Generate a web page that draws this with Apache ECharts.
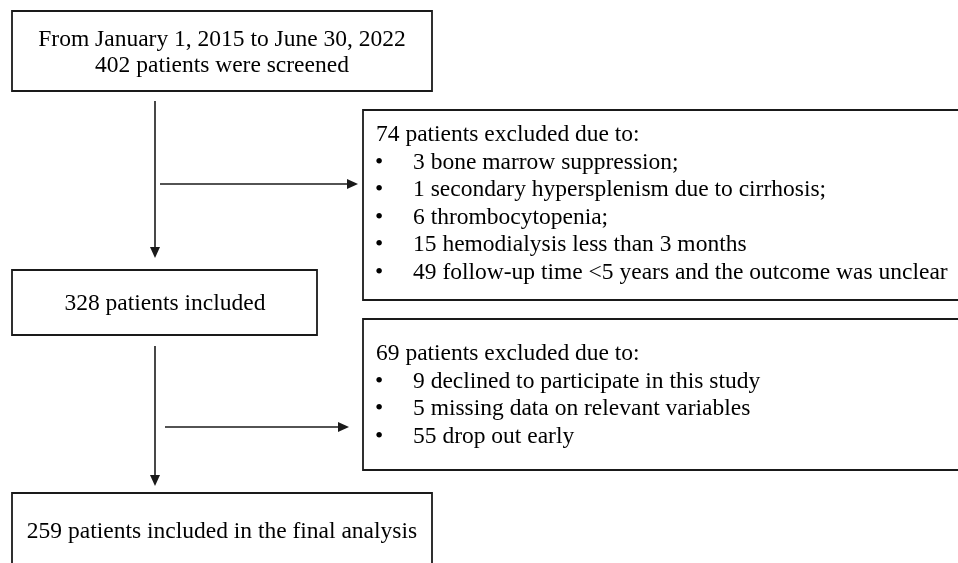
<!doctype html>
<html lang="en">
<head>
    <meta charset="UTF-8">
    <title>Patient flow</title>
    <style>
        html, body { margin: 0; padding: 0; background: #fff; }
        #main { width: 958px; height: 563px; }
    </style>
    <script src="https://cdn.jsdelivr.net/npm/echarts@6/dist/echarts.min.js"></script>
</head>
<body>
<div id="main"></div>
<script type="text/javascript">
    // chart content
    var screenedLines = ['From January 1, 2015 to June 30, 2022', '402 patients were screened'];
    var exclusion1Title = '74 patients excluded due to:';
    var exclusion1Reasons = [
        '3 bone marrow suppression;',
        '1 secondary hypersplenism due to cirrhosis;',
        '6 thrombocytopenia;',
        '15 hemodialysis less than 3 months',
        '49 follow-up time <5 years and the outcome was unclear'
    ];
    var includedLabel = '328 patients included';
    var exclusion2Title = '69 patients excluded due to:';
    var exclusion2Reasons = [
        '9 declined to participate in this study',
        '5 missing data on relevant variables',
        '55 drop out early'
    ];
    var finalLabel = '259 patients included in the final analysis';

    // layout (page units on hidden axes): [x1, y1, x2, y2]
    var boxes = [[12, 11, 432, 91], [363, 110, 964, 300], [12, 270, 317, 335], [363, 319, 964, 470], [12, 493, 432, 580]];
    var arrows = [[155, 101, 155, 258], [160, 184, 358, 184], [155, 346, 155, 486], [165, 427, 349, 427]];
    var lineGap = 27.5;

    var FONT = '23.5px "Liberation Serif", "Times New Roman", serif';
    var INK = '#1a1a1a';

    // text rows: [x, y, text, align]
    var textRows = [
        [222, 40, screenedLines[0], 'center'],
        [222, 66, screenedLines[1], 'center'],
        [165, 304, includedLabel, 'center'],
        [222, 532, finalLabel, 'center']
    ];
    function addList(title, reasons, top) {
        textRows.push([376, top, title, 'left']);
        reasons.forEach(function (r, i) {
            textRows.push([379, top + lineGap * (i + 1), '•', 'center']);
            textRows.push([413, top + lineGap * (i + 1), r, 'left']);
        });
    }
    addList(exclusion1Title, exclusion1Reasons, 135);
    addList(exclusion2Title, exclusion2Reasons, 354);

    var myChart = echarts.init(document.getElementById('main'));
    myChart.setOption({
        animation: false,
        backgroundColor: '#fff',
        grid: {left: 0, right: 0, top: 0, bottom: 0},
        xAxis: {type: 'value', min: 0, max: 958, show: false},
        yAxis: {type: 'value', min: 0, max: 563, inverse: true, show: false},
        series: [
            {
                type: 'custom',
                name: 'boxes',
                clip: false,
                silent: true,
                data: boxes,
                renderItem: function (params, api) {
                    var a = api.coord([api.value(0), api.value(1)]);
                    var b = api.coord([api.value(2), api.value(3)]);
                    return {
                        type: 'rect',
                        shape: {x: a[0], y: a[1], width: b[0] - a[0], height: b[1] - a[1]},
                        style: {fill: 'none', stroke: INK, lineWidth: 1.8}
                    };
                }
            },
            {
                type: 'custom',
                name: 'arrows',
                clip: false,
                silent: true,
                data: arrows,
                renderItem: function (params, api) {
                    var a = api.coord([api.value(0), api.value(1)]);
                    var b = api.coord([api.value(2), api.value(3)]);
                    var dx = b[0] - a[0], dy = b[1] - a[1];
                    var len = Math.sqrt(dx * dx + dy * dy);
                    var ux = dx / len, uy = dy / len;
                    var headL = 11, headW = 5;
                    var bx = b[0] - ux * headL, by = b[1] - uy * headL;
                    return {
                        type: 'group',
                        children: [
                            {
                                type: 'line',
                                shape: {x1: a[0], y1: a[1], x2: bx, y2: by},
                                style: {stroke: INK, lineWidth: 1.6}
                            },
                            {
                                type: 'polygon',
                                shape: {points: [[b[0], b[1]], [bx - uy * headW, by + ux * headW], [bx + uy * headW, by - ux * headW]]},
                                style: {fill: INK}
                            }
                        ]
                    };
                }
            },
            {
                type: 'custom',
                name: 'labels',
                clip: false,
                silent: true,
                data: textRows,
                renderItem: function (params, api) {
                    var row = textRows[params.dataIndex];
                    var p = api.coord([row[0], row[1]]);
                    return {
                        type: 'text',
                        x: p[0],
                        y: p[1],
                        style: {
                            text: row[2],
                            font: FONT,
                            fill: '#000',
                            align: row[3],
                            verticalAlign: 'middle'
                        }
                    };
                }
            }
        ]
    });
</script>
</body>
</html>
